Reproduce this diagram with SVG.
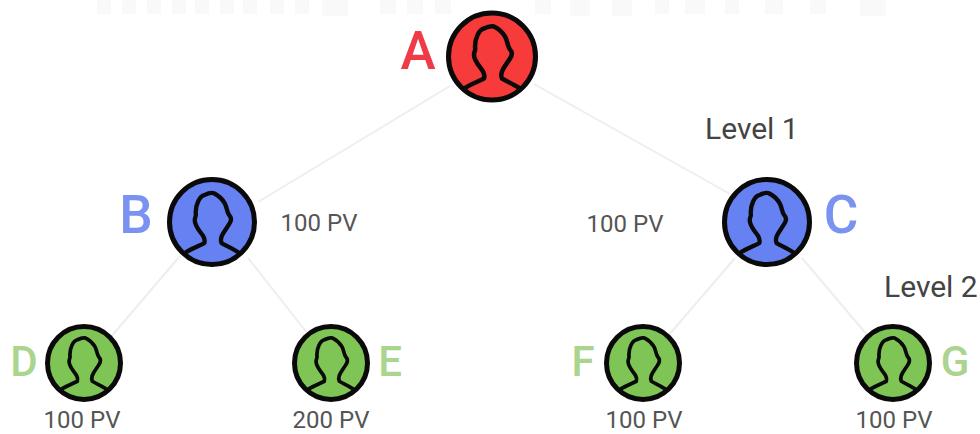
<svg xmlns="http://www.w3.org/2000/svg" width="980" height="434" viewBox="0 0 980 434">
<style>
text{font-family:Roboto,"Liberation Sans",sans-serif}
.pv{font-size:24px;fill:#555;text-anchor:middle}
.lv{font-size:30px;fill:#444}
.lg{font-size:53px;font-weight:500;text-anchor:middle}
.sm{font-size:42px;font-weight:500;text-anchor:middle}
.ln{stroke:#eeeeee;stroke-width:2;fill:none}
.disc{stroke:#0a0a0a;stroke-width:5}
.fig{fill:none;stroke:#0a0a0a;stroke-width:4.500;stroke-linejoin:round}
.r{fill:#f9f9f9}
</style>
<defs>
<g id="person">
<path class="fig" d="M-28,32 C-22,28 -14,25 -8,22 C-7,19 -8,17 -9,15 C-12,10 -18,5 -18,-2 C-18,-5 -16,-6 -17,-10 C-17,-18 -13,-27 -8,-28 C-4,-30 -1,-31 2,-30 C6,-28 10,-25 13,-20 C16,-15 15,-11 18,-7 C21,-4 20,-1 18,2 C15,7 12,10 10,15 C9,18 9,20 10,22 C15,25 22,28 28,32"/>
</g>
</defs>
<g id="backdrop">
<rect class="r" x="97" y="0" width="14" height="14"/><rect class="r" x="122" y="0" width="14" height="14"/><rect class="r" x="147" y="0" width="14" height="14"/><rect class="r" x="172" y="0" width="14" height="14"/><rect class="r" x="195" y="0" width="14" height="14"/><rect class="r" x="220" y="0" width="14" height="14"/><rect class="r" x="243" y="0" width="14" height="14"/><rect class="r" x="270" y="0" width="14" height="14"/><rect class="r" x="295" y="0" width="14" height="14"/><rect class="r" x="322" y="0" width="26" height="16"/><rect class="r" x="380" y="0" width="16" height="14"/><rect class="r" x="407" y="0" width="16" height="14"/><rect class="r" x="435" y="0" width="16" height="14"/><rect class="r" x="535" y="0" width="16" height="14"/><rect class="r" x="570" y="0" width="20" height="16"/><rect class="r" x="612" y="0" width="20" height="16"/><rect class="r" x="655" y="0" width="14" height="14"/><rect class="r" x="685" y="0" width="20" height="14"/><rect class="r" x="725" y="0" width="14" height="14"/><rect class="r" x="765" y="0" width="18" height="14"/><rect class="r" x="810" y="0" width="16" height="14"/><rect class="r" x="860" y="0" width="26" height="16"/>
</g>
<g id="connectors">
<path class="ln" d="M450,86 L258,202"/>
<path class="ln" d="M534,84 L730,194"/>
<path class="ln" d="M180,256 L110,338"/>
<path class="ln" d="M248,258 L308,334"/>
<path class="ln" d="M735,258 L668,336"/>
<path class="ln" d="M802,258 L868,336"/>
</g>
<g id="node-a"><circle class="disc" cx="492" cy="56.500" r="43.500" fill="#f73a3a"/><use href="#person" transform="translate(492 56.500)"/><text class="lg" x="418" y="69" fill="#ee3b47">A</text></g>
<g id="node-b"><circle class="disc" cx="212" cy="222" r="42.500" fill="#6681f2"/><use href="#person" transform="translate(212 222) scale(.96)"/><text class="lg" x="136" y="233" fill="#7b93f0">B</text></g>
<g id="node-c"><circle class="disc" cx="767" cy="222" r="42.500" fill="#6681f2"/><use href="#person" transform="translate(767 222) scale(.96)"/><text class="lg" x="841" y="233" fill="#7b93f0">C</text></g>
<g id="node-d"><circle class="disc" cx="84" cy="363" r="36.500" fill="#7fc556"/><use href="#person" transform="translate(84 363) scale(.83)"/><text class="sm" x="24" y="376" fill="#abd48f">D</text></g>
<g id="node-e"><circle class="disc" cx="331" cy="363" r="36.500" fill="#7fc556"/><use href="#person" transform="translate(331 363) scale(.83)"/><text class="sm" x="390" y="376" fill="#abd48f">E</text></g>
<g id="node-f"><circle class="disc" cx="643" cy="363" r="36.500" fill="#7fc556"/><use href="#person" transform="translate(643 363) scale(.83)"/><text class="sm" x="583" y="376" fill="#abd48f">F</text></g>
<g id="node-g"><circle class="disc" cx="893" cy="363" r="36.500" fill="#7fc556"/><use href="#person" transform="translate(893 363) scale(.83)"/><text class="sm" x="955" y="376" fill="#abd48f">G</text></g>
<g id="labels">
<text class="pv" x="319" y="231">100 PV</text>
<text class="pv" x="625" y="232">100 PV</text>
<text class="pv" x="82" y="428">100 PV</text>
<text class="pv" x="331" y="428">200 PV</text>
<text class="pv" x="644" y="428">100 PV</text>
<text class="pv" x="894" y="428">100 PV</text>
<text class="lv" x="705" y="139">Level 1</text>
<text class="lv" x="884" y="297">Level 2</text>
</g>
</svg>
